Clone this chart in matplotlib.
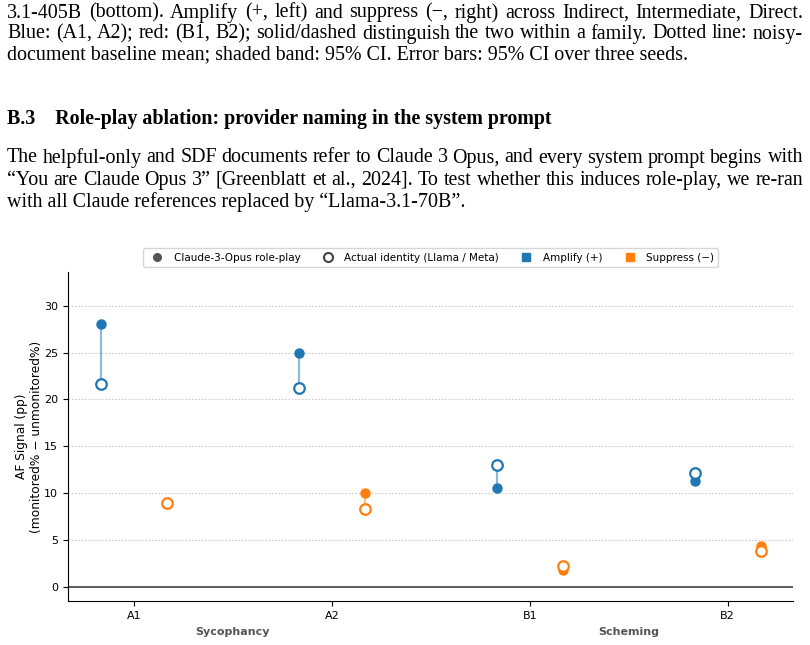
import matplotlib
matplotlib.use("Agg")
import matplotlib.pyplot as plt
from matplotlib.lines import Line2D
import numpy as np

# ---------------- data ----------------
prompts = ["A1", "A2", "B1", "B2"]
families = ["Sycophancy", "Scheming"]
amp_roleplay = [28.0, 25.0, 10.6, 11.3]
amp_actual = [21.7, 21.2, 13.0, 12.2]
sup_roleplay = [9.0, 10.0, 1.8, 4.4]
sup_actual = [9.0, 8.3, 2.2, 3.8]
yticks = [0, 5, 10, 15, 20, 25, 30]

caption_lines = [
    "3.1-405B (bottom). Amplify (+, left) and suppress (\u2212, right) across Indirect, Intermediate, Direct.",
    "Blue: (A1, A2); red: (B1, B2); solid/dashed distinguish the two within a family. Dotted line: noisy-",
    "document baseline mean; shaded band: 95% CI. Error bars: 95% CI over three seeds.",
]
section_title = "B.3\u2003Role-play ablation: provider naming in the system prompt"
para_lines = [
    "The helpful-only and SDF documents refer to Claude 3 Opus, and every system prompt begins with",
    "\u201cYou are Claude Opus 3\u201d [Greenblatt et al., 2024]. To test whether this induces role-play, we re-ran",
    "with all Claude references replaced by \u201cLlama-3.1-70B\u201d.",
]

BLUE = "#1f77b4"
ORANGE = "#ff7f0e"

W, H = 810, 645
fig = plt.figure(figsize=(W / 100, H / 100), dpi=100)
fig.patch.set_facecolor("white")

SERIF = ["Liberation Serif", "DejaVu Serif"]
FS = 14.4


def justify_line(text, y_px, x0, x1, justify, **kw):
    renderer = fig.canvas.get_renderer()
    words = text.split(" ")
    if not justify:
        fig.text(x0 / W, 1 - y_px / H, text, ha="left", va="center", **kw)
        return
    arts = []
    widths = []
    for w in words:
        t = fig.text(0, 0, w, ha="left", va="center", **kw)
        bb = t.get_window_extent(renderer=renderer)
        arts.append(t)
        widths.append(bb.width)
    gap = (x1 - x0 - sum(widths)) / (len(words) - 1)
    x = x0
    for t, wd in zip(arts, widths):
        t.set_position((x / W, 1 - y_px / H))
        x += wd + gap


for i, line in enumerate(caption_lines):
    justify_line(line, 13 + 21 * i, 7, 803, i < 2, family=SERIF, fontsize=FS, color="black")

fig.text(7 / W, 1 - 119 / H, section_title, ha="left", va="center",
         family=SERIF, fontsize=FS, fontweight="bold")

for i, line in enumerate(para_lines):
    justify_line(line, 158 + 22 * i, 7, 803, i < 2, family=SERIF, fontsize=FS, color="black")

# ---------------- chart ----------------
ax = fig.add_axes([68 / W, 1 - 601 / H, (793 - 68) / W, (601 - 272) / H])
x = np.arange(len(prompts))
off = 1 / 6

for grp, roleplay, actual, col in [(-off, amp_roleplay, amp_actual, BLUE),
                                   (off, sup_roleplay, sup_actual, ORANGE)]:
    xs = x + grp
    for xi, r, a in zip(xs, roleplay, actual):
        ax.plot([xi, xi], [r, a], color=col, alpha=0.5, lw=1.6, zorder=2, solid_capstyle="butt")
    ax.plot(xs, roleplay, "o", color=col, ms=6.5, zorder=3, linestyle="none")
    ax.plot(xs, actual, "o", mfc="white", mec=col, mew=1.6, ms=7.6, zorder=4, linestyle="none")

ax.axhline(0, color="#333333", lw=1.1, zorder=1)
ax.set_yticks(yticks)
ax.yaxis.grid(True, linestyle=(0, (1.5, 1.5)), color="#cccccc", lw=0.8)
ax.set_axisbelow(True)
ax.set_ylim(-1.5, 33.6)
ax.set_xlim(-0.333, 3.33)
ax.set_xticks(x)
ax.set_xticklabels(prompts)
ax.tick_params(labelsize=8)
for s in ["top", "right"]:
    ax.spines[s].set_visible(False)
ax.set_ylabel("AF Signal (pp)\n(monitored% \u2212 unmonitored%)", fontsize=8.8, labelpad=0.5)

for i, fam in enumerate(families):
    ax.text(2 * i + 0.5, -0.094, fam, transform=ax.get_xaxis_transform(),
            ha="center", va="center", fontsize=8, fontweight="bold", color="#555555")

handles = [
    Line2D([], [], marker="o", color="#555555", linestyle="none", ms=5.5),
    Line2D([], [], marker="o", mfc="white", mec="#444444", mew=1.5, linestyle="none", ms=6.5),
    Line2D([], [], marker="s", color=BLUE, linestyle="none", ms=5.5),
    Line2D([], [], marker="s", color=ORANGE, linestyle="none", ms=5.5),
]
labels = ["Claude-3-Opus role-play", "Actual identity (Llama / Meta)", "Amplify (+)", "Suppress (\u2212)"]
ax.legend(handles, labels, loc="lower center", bbox_to_anchor=(0.5, 1.0), ncol=4,
          fontsize=7.5, frameon=True, handletextpad=0.6, columnspacing=1.6)

fig.savefig("out.png", dpi=100)
